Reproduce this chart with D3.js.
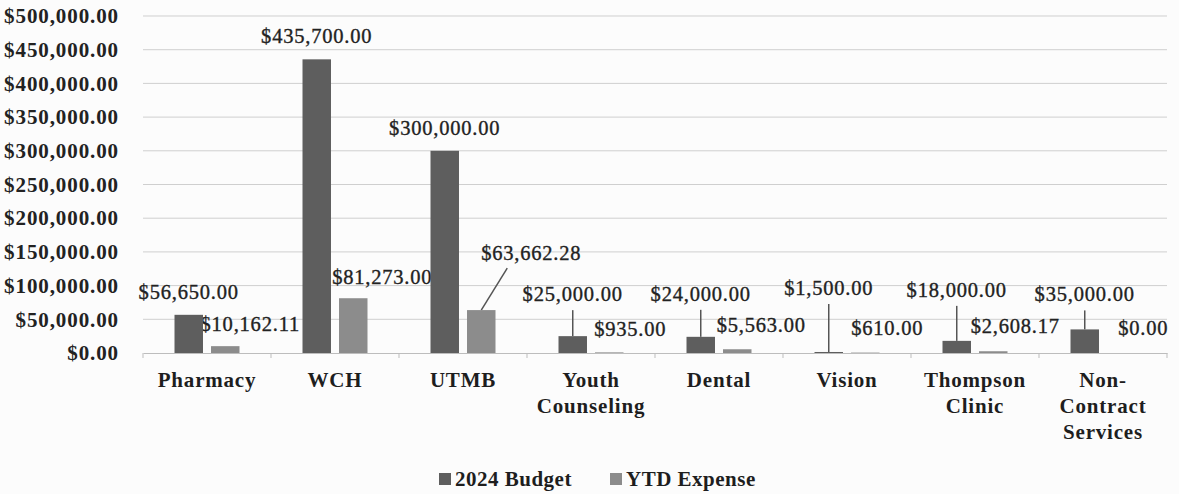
<!DOCTYPE html>
<html>
<head>
<meta charset="utf-8">
<script src="https://cdn.jsdelivr.net/npm/d3@7"></script>
<style>
  body { margin: 0; background: #fcfcfc; }
  svg { display: block; font-family: "Liberation Serif", "Times New Roman", serif; }
</style>
</head>
<body>
<div class="chart"></div>
<script>
// chart values
var categories = ["Pharmacy", "WCH", "UTMB", "Youth Counseling", "Dental", "Vision", "Thompson Clinic", "Non-Contract Services"];
var categoryLines = [["Pharmacy"], ["WCH"], ["UTMB"], ["Youth", "Counseling"], ["Dental"], ["Vision"], ["Thompson", "Clinic"], ["Non-", "Contract", "Services"]];
var seriesNames = ["2024 Budget", "YTD Expense"];
var budget = [56650.00, 435700.00, 300000.00, 25000.00, 24000.00, 1500.00, 18000.00, 35000.00];
var ytdExpense = [10162.11, 81273.00, 63662.28, 935.00, 5563.00, 610.00, 2608.17, 0.00];
var yTicks = [0, 50000, 100000, 150000, 200000, 250000, 300000, 350000, 400000, 450000, 500000];

// label placement (how far above the bar top, sideways shift, leader line or not)
var budgetLabelLift = [16, 16, 16, 35, 36, 57, 44, 28];
var budgetLeader = [false, false, false, true, true, true, true, true];
var expenseLabelLift = [15, 14, 50, 16, 17, 18, 18, 18];
var expenseLabelShift = [25, 29, 50, 21, 24, 22, 22, 22];
var expenseLeader = [false, false, true, false, false, false, false, false];

var colors = {"2024 Budget": "#5e5e5e", "YTD Expense": "#8c8c8c"};

var width = 1179, height = 494;
var margin = {top: 16, right: 12, bottom: 141, left: 143};

var svg = d3.select(".chart").append("svg")
  .attr("width", width)
  .attr("height", height);

var x = d3.scaleBand().domain(categories).range([margin.left, width - margin.right]);
var xSub = d3.scaleBand().domain(seriesNames).range([31.5, 96.5]).paddingInner(0.22);
var y = d3.scaleLinear().domain([0, 500000]).range([height - margin.bottom, margin.top]);

var money = function (v) { return "$" + d3.format(",.2f")(v); };

// gridlines
svg.append("g")
  .selectAll("line")
  .data(yTicks.slice(1))
  .enter().append("line")
  .attr("x1", margin.left).attr("x2", width - margin.right)
  .attr("y1", function (d) { return y(d); })
  .attr("y2", function (d) { return y(d); })
  .attr("stroke", "#cfcfcf")
  .attr("stroke-width", 1);

// y axis labels
var yAxis = d3.axisLeft(y).tickValues(yTicks).tickFormat(money).tickSize(0).tickPadding(24);
var yg = svg.append("g").attr("transform", "translate(" + margin.left + ",0)").call(yAxis);
yg.select(".domain").remove();
yg.selectAll("text")
  .attr("font-family", "Liberation Serif, serif")
  .attr("letter-spacing", 0.9)
  .attr("font-size", 21).attr("font-weight", "bold").attr("fill", "#222");

// x axis line + ticks
var xAxis = d3.axisBottom(x).tickSize(0).tickFormat("");
var xg = svg.append("g").attr("transform", "translate(0," + y(0) + ")").call(xAxis);
xg.select(".domain").attr("stroke", "#bdbdbd");
xg.selectAll(".tick").remove();
xg.selectAll(".sep")
  .data(d3.range(categories.length + 1))
  .enter().append("line")
  .attr("x1", function (i) { return margin.left + i * x.step(); })
  .attr("x2", function (i) { return margin.left + i * x.step(); })
  .attr("y1", 0).attr("y2", 5)
  .attr("stroke", "#bdbdbd");

// category labels
svg.append("g").selectAll("text")
  .data(categories)
  .enter().append("text")
  .attr("text-anchor", "middle")
  .attr("font-family", "Liberation Serif, serif")
  .attr("font-size", 21).attr("font-weight", "bold").attr("fill", "#1e1e1e")
  .attr("letter-spacing", 0.8)
  .each(function (d, i) {
    var t = d3.select(this);
    categoryLines[i].forEach(function (line, j) {
      t.append("tspan")
        .attr("x", x(d) + x.bandwidth() / 2)
        .attr("y", y(0) + 34 + j * 26)
        .text(line);
    });
  });

// data labels (drawn under the bars, as in the original)
var labels = svg.append("g")
  .attr("font-family", "Liberation Serif, serif")
  .attr("font-size", 20.5).attr("fill", "#222").attr("text-anchor", "middle")
  .attr("stroke", "#222").attr("stroke-width", 0.35)
  .attr("letter-spacing", 0.8);

// bars
var rows = categories.map(function (c, i) {
  return {cat: c, i: i, values: [budget[i], ytdExpense[i]]};
});

var groups = svg.append("g").selectAll("g")
  .data(rows)
  .enter().append("g")
  .attr("transform", function (d) { return "translate(" + x(d.cat) + ",0)"; });

groups.selectAll("rect")
  .data(function (d) { return d.values.map(function (v, k) { return {name: seriesNames[k], value: v}; }); })
  .enter().append("rect")
  .attr("x", function (d) { return xSub(d.name); })
  .attr("width", xSub.bandwidth())
  .attr("y", function (d) { return y(d.value); })
  .attr("height", function (d) { return y(0) - y(d.value); })
  .attr("fill", function (d) { return colors[d.name]; });

rows.forEach(function (d) {
  var i = d.i;
  var bx = x(d.cat) + xSub("2024 Budget") + xSub.bandwidth() / 2;
  var top = y(budget[i]);
  var base = top - budgetLabelLift[i];
  labels.append("text").attr("x", bx).attr("y", base).text(money(budget[i]));
  if (budgetLeader[i]) {
    labels.append("line")
      .attr("x1", bx).attr("x2", bx)
      .attr("y1", base + 9).attr("y2", top)
      .attr("stroke", "#555").attr("stroke-width", 1.5);
  }

  var ex = x(d.cat) + xSub("YTD Expense") + xSub.bandwidth() / 2;
  var etop = y(ytdExpense[i]);
  var ebase = etop - expenseLabelLift[i];
  var lx = ex + expenseLabelShift[i];
  labels.append("text").attr("x", lx).attr("y", ebase).text(money(ytdExpense[i]));
  if (expenseLeader[i]) {
    labels.append("line")
      .attr("x1", ex).attr("y1", etop)
      .attr("x2", lx - 24).attr("y2", ebase + 8)
      .attr("stroke", "#555").attr("stroke-width", 1.5);
  }
});

// legend
var legend = svg.append("g")
  .attr("font-family", "Liberation Serif, serif")
  .attr("font-size", 21).attr("font-weight", "bold").attr("fill", "#1e1e1e");
var legendX = [439, 610];
seriesNames.forEach(function (name, k) {
  legend.append("rect")
    .attr("x", legendX[k]).attr("y", 473)
    .attr("width", 12).attr("height", 12)
    .attr("fill", colors[name]);
  legend.append("text")
    .attr("x", legendX[k] + 16).attr("y", 486)
    .attr("letter-spacing", 0.5)
    .text(name);
});
</script>
</body>
</html>
